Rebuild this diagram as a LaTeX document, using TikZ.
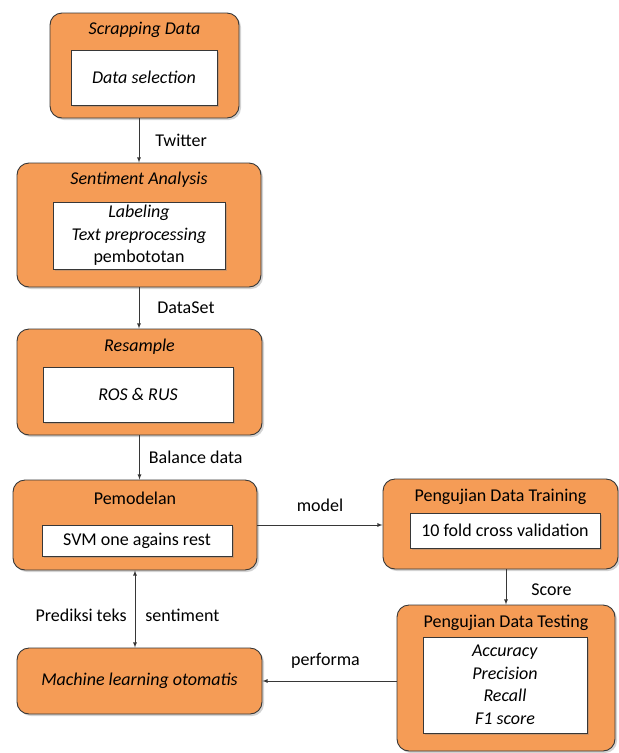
\documentclass[tikz,border=0pt]{standalone}
\usepackage{fontspec}
\setmainfont{Carlito}
\usetikzlibrary{shadows}
\definecolor{boxorange}{RGB}{245,156,86}
\definecolor{edgegray}{RGB}{55,55,55}
\tikzset{
  box/.style={draw=edgegray, line width=0.9pt, fill=boxorange, rounded corners=12pt,
    drop shadow={shadow xshift=2pt, shadow yshift=-2pt, opacity=0.35}},
  inbox/.style={draw=edgegray, line width=0.9pt, fill=white, align=center,
    drop shadow={shadow xshift=2pt, shadow yshift=-2pt, opacity=0.35}},
  lbl/.style={text=black},
  arr/.style={-latex, line width=0.8pt, draw=edgegray}
}
\begin{document}
\begin{tikzpicture}[x=1pt, y=-1pt, font=\fontsize{18}{22.5}\selectfont, inner sep=0pt]
\useasboundingbox (0,0) rectangle (619,753);

% outer boxes
\node [box, minimum width=189pt, minimum height=105pt] (scrap) at (144.5,65.5) {};
\node [box, minimum width=244pt, minimum height=124pt] (senti) at (139,225) {};
\node [box, minimum width=245pt, minimum height=106pt] (resmp) at (139.5,382) {};
\node [box, minimum width=244pt, minimum height=90pt] (model) at (135,525) {};
\node [box, minimum width=245pt, minimum height=66pt] (mlo) at (139.5,681) {\textit{Machine learning otomatis}};
\node [box, minimum width=235pt, minimum height=90pt] (train) at (500.5,524) {};
\node [box, minimum width=218pt, minimum height=146pt] (test) at (506,678) {};

% titles
\node (scrapT) at (144.5,30) {\textit{Scrapping Data}};
\node (sentiT) at (139,180) {\textit{Sentiment Analysis}};
\node (resmpT) at (139.5,347) {\textit{Resample}};
\node (modelT) at (135,498) {Pemodelan};
\node (trainT) at (500.5,497) {Pengujian Data Training};
\node (testT) at (506,623) {Pengujian Data Testing};

% inner boxes
\node [inbox, minimum width=146pt, minimum height=55pt] (scrapI) at (144,77.5) {\textit{Data selection}};
\node [inbox, minimum width=172pt, minimum height=67pt] (sentiI) at (139,235.5) {\textit{Labeling}\\\textit{Text preprocessing}\\pembototan};
\node [inbox, minimum width=190pt, minimum height=55pt] (resmpI) at (138,394.5) {\textit{ROS \& RUS}};
\node [inbox, minimum width=190pt, minimum height=31pt] (modelI) at (137,540.5) {SVM one agains rest};
\node [inbox, minimum width=190pt, minimum height=35pt] (trainI) at (505,530.5) {10 fold cross validation};
\node [inbox, minimum width=164pt, minimum height=96pt] (testI) at (505,685) {\textit{Accuracy}\\\textit{Precision}\\\textit{Recall}\\\textit{F1 score}};

% connectors
\draw [arr] (scrap.south -| senti.north) -- node [lbl, right=16pt] {Twitter} (senti.north);
\draw [arr] (senti.south) -- node [lbl, right=18pt] {DataSet} (senti.south |- resmp.north);
\draw [arr] (resmp.south) -- node [lbl, right=9pt] {Balance data} (resmp.south |- model.north);
\draw [arr] (model.east) -- node [lbl, above=13pt] {model} (model.east -| train.west);
\draw [arr] (train.south -| test.north) -- node [lbl, right=25pt, yshift=-3pt] {Score} (test.north);
\draw [arr] (test.west |- mlo.east) -- node [lbl, above=12pt, xshift=-4pt] {performa} (mlo.east);
\draw [arr, latex-latex] (model.south) -- node [lbl, left=8pt, yshift=-6pt] {Prediksi teks} node [lbl, right=10pt, yshift=-6pt] {sentiment} (model.south |- mlo.north);

\end{tikzpicture}
\end{document}
